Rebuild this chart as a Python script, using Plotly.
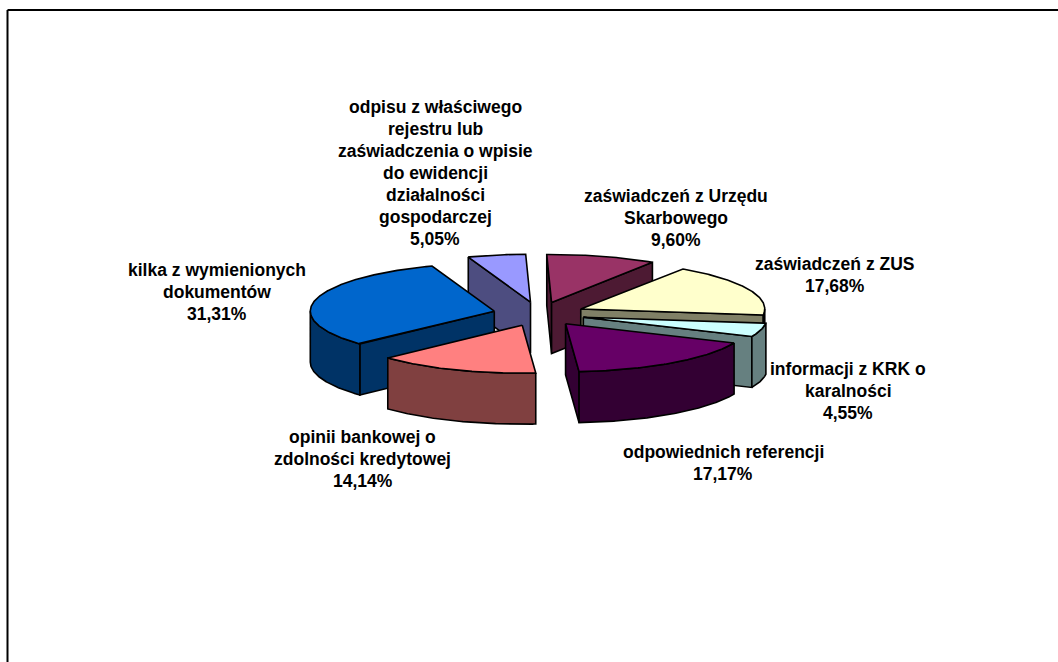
import math
import plotly.graph_objects as go

# ---- data ----
categories = [
    ["zaświadczeń z Urzędu", "Skarbowego"],
    ["zaświadczeń z ZUS"],
    ["informacji z KRK o", "karalności"],
    ["odpowiednich referencji"],
    ["opinii bankowej o", "zdolności kredytowej"],
    ["kilka z wymienionych", "dokumentów"],
    ["odpisu z właściwego", "rejestru lub", "zaświadczenia o wpisie", "do ewidencji",
     "działalności", "gospodarczej"],
]
values = [9.60, 17.68, 4.55, 17.17, 14.14, 31.31, 5.05]

# ---- style ----
top_colors = ["#993366", "#FFFFCC", "#CCFFFF", "#660066", "#FF8080", "#0066CC", "#9999FF"]
side_colors = ["#4D1A33", "#808066", "#668080", "#330033", "#804040", "#003366", "#4D4D80"]
label_centers_x = [676, 835, 848, 723, 362.5, 217, 435]
label_first_y = [196, 264, 369, 452, 437, 270, 107]
LINE_PITCH = 22
CX, CY, RX, RY, DEPTH = 539, 314, 184, 48, 51
PULL, ROTATION = 0.25, -1.5
W, H = 1058, 662

fig = go.Figure()


def pt(theta, ox, oy, dz=0):
    t = math.radians(theta)
    return ox + RX * math.sin(t), oy - RY * math.cos(t) + dz


def poly(points, color):
    xs = [p[0] for p in points] + [points[0][0]]
    ys = [p[1] for p in points] + [points[0][1]]
    fig.add_trace(go.Scatter(x=xs, y=ys, mode="lines", fill="toself", fillcolor=color,
                             line=dict(color="black", width=1.6), hoverinfo="skip",
                             showlegend=False))


total = sum(values)
slices = []
start = ROTATION
for i, v in enumerate(values):
    sweep = v / total * 360
    slices.append((i, start, start + sweep))
    start += sweep


def mid(s):
    return (s[1] + s[2]) / 2


for i, a, b in sorted(slices, key=lambda s: -math.cos(math.radians(mid(s)))):
    m = math.radians((a + b) / 2)
    ox = CX + PULL * RX * math.sin(m)
    oy = CY - PULL * RY * math.cos(m)
    side = side_colors[i]
    # radial cut faces turned towards the viewer
    if math.sin(math.radians(a)) < 0:
        p = pt(a, ox, oy)
        poly([(ox, oy), p, (p[0], p[1] + DEPTH), (ox, oy + DEPTH)], side)
    if math.sin(math.radians(b)) > 0:
        p = pt(b, ox, oy)
        poly([(ox, oy), p, (p[0], p[1] + DEPTH), (ox, oy + DEPTH)], side)
    # outer rim, front half only
    lo, hi = max(a, 90), min(b, 270)
    if hi > lo:
        n = max(2, int((hi - lo) * 2))
        ths = [lo + (hi - lo) * k / n for k in range(n + 1)]
        rim = [pt(t, ox, oy) for t in ths] + [pt(t, ox, oy, DEPTH) for t in reversed(ths)]
        poly(rim, side)
    # top face
    n = max(2, int((b - a) * 2))
    arc = [pt(a + (b - a) * k / n, ox, oy) for k in range(n + 1)]
    poly([(ox, oy)] + arc, top_colors[i])

# ---- labels ----
for i, lines in enumerate(categories):
    pct = f"{values[i]:.2f}%".replace(".", ",")
    for k, line in enumerate(lines + [pct]):
        fig.add_annotation(x=label_centers_x[i], y=label_first_y[i] + k * LINE_PITCH,
                           text=f"<b>{line}</b>", showarrow=False, xanchor="center",
                           yanchor="middle",
                           font=dict(family="Liberation Sans", size=17.5, color="black"))

# ---- frame: top and left rules only ----
fig.add_shape(type="line", x0=7.5, x1=W, y0=10, y1=10, line=dict(color="black", width=2))
fig.add_shape(type="line", x0=7.5, x1=7.5, y0=10, y1=H, line=dict(color="black", width=2))

fig.update_layout(
    width=W, height=H, margin=dict(l=0, r=0, t=0, b=0),
    paper_bgcolor="white", plot_bgcolor="white", showlegend=False,
    xaxis=dict(range=[0, W], visible=False, fixedrange=True),
    yaxis=dict(range=[H, 0], visible=False, fixedrange=True),
)
fig.write_html("out.html", config=dict(displayModeBar=False),
               post_script="document.body.style.margin='0';document.body.style.overflow='hidden';")
